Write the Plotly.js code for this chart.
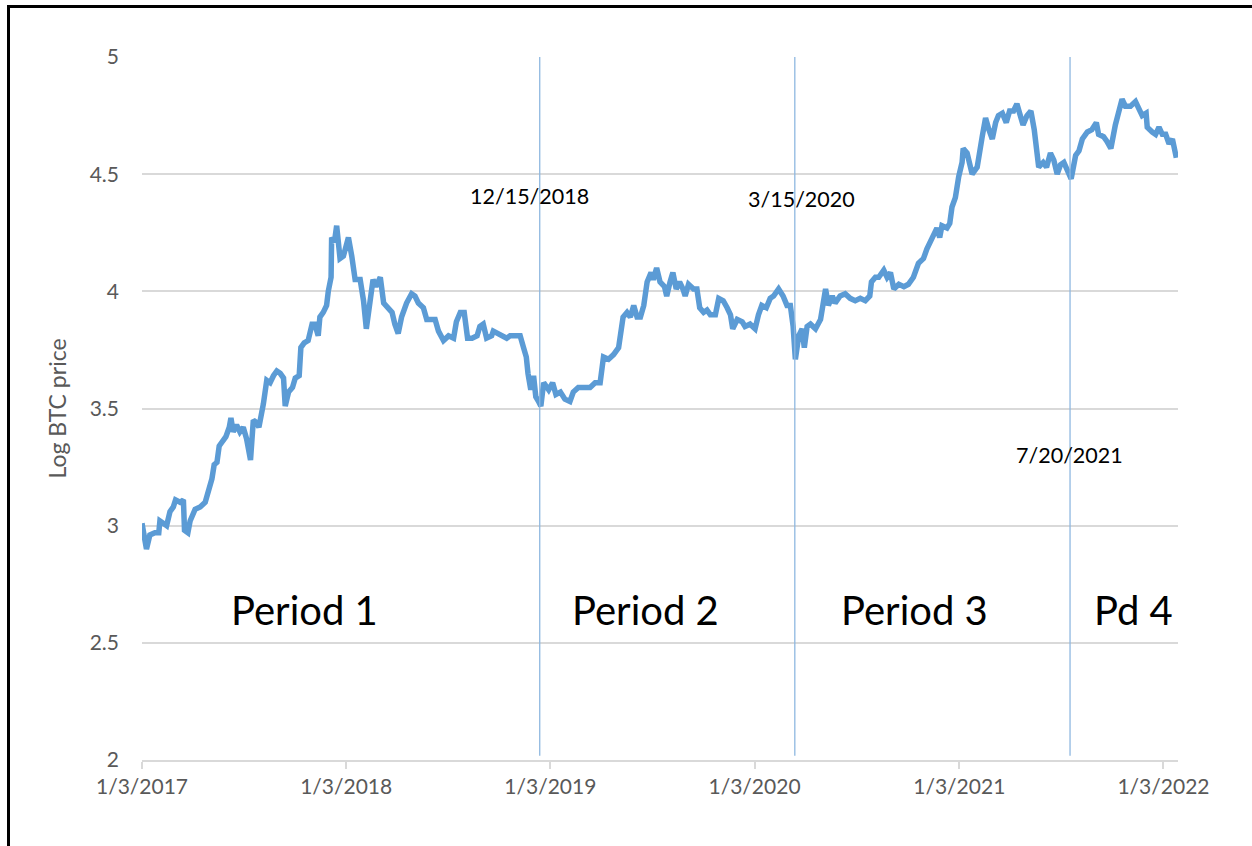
<!DOCTYPE html>
<html>
<head>
<meta charset="utf-8">
<script src="https://cdn.plot.ly/plotly-3.0.1.min.js"></script>
<style>
  html, body { margin: 0; padding: 0; background: #ffffff; }
  #wrap { position: relative; width: 1252px; height: 846px; overflow: hidden; }
  #chart { width: 1252px; height: 846px; }
  #frame { position: absolute; left: 7px; top: 5px; width: 1300px; height: 900px;
           border-left: 3px solid #000; border-top: 3px solid #000; pointer-events: none; }
</style>
</head>
<body>
<div id="wrap">
  <div id="chart"></div>
  <div id="frame"></div>
</div>
<script>
// ---- data ----
const dates = [
  '2017-01-03','2017-01-11','2017-01-17','2017-01-26','2017-02-02','2017-02-04','2017-02-10','2017-02-16','2017-02-22','2017-02-28',
  '2017-03-04','2017-03-12','2017-03-18','2017-03-20','2017-03-26','2017-03-30','2017-04-08','2017-04-17','2017-04-26','2017-05-02',
  '2017-05-08','2017-05-12','2017-05-17','2017-05-21','2017-05-27','2017-06-02','2017-06-08','2017-06-11','2017-06-15','2017-06-21',
  '2017-06-27','2017-07-03','2017-07-09','2017-07-16','2017-07-21','2017-07-27','2017-07-31','2017-08-04','2017-08-08','2017-08-14',
  '2017-08-20','2017-08-26','2017-09-01','2017-09-07','2017-09-13','2017-09-16','2017-09-22','2017-09-29','2017-10-04','2017-10-11',
  '2017-10-14','2017-10-20','2017-10-27','2017-11-03','2017-11-08','2017-11-14','2017-11-17','2017-11-23','2017-11-29','2017-12-02',
  '2017-12-07','2017-12-08','2017-12-13','2017-12-17','2017-12-23','2017-12-29','2018-01-07','2018-01-13','2018-01-19','2018-01-28',
  '2018-02-03','2018-02-08','2018-02-13','2018-02-20','2018-02-25','2018-03-05','2018-03-11','2018-03-17','2018-03-26','2018-03-31',
  '2018-04-06','2018-04-12','2018-04-21','2018-04-30','2018-05-06','2018-05-12','2018-05-21','2018-05-27','2018-06-05','2018-06-11',
  '2018-06-17','2018-06-26','2018-07-05','2018-07-14','2018-07-19','2018-07-26','2018-08-02','2018-08-08','2018-08-16','2018-08-25',
  '2018-08-30','2018-09-05','2018-09-11','2018-09-20','2018-09-23','2018-10-02','2018-10-11','2018-10-17','2018-10-23','2018-11-01',
  '2018-11-10','2018-11-16','2018-11-21','2018-11-24','2018-11-29','2018-12-04','2018-12-08','2018-12-13','2018-12-17','2018-12-22',
  '2018-12-31','2019-01-07','2019-01-13','2019-01-21','2019-01-29','2019-02-07','2019-02-13','2019-02-22','2019-03-03','2019-03-15',
  '2019-03-24','2019-04-02','2019-04-08','2019-04-17','2019-04-26','2019-05-05','2019-05-13','2019-05-20','2019-05-26','2019-06-01',
  '2019-06-07','2019-06-13','2019-06-19','2019-06-25','2019-07-02','2019-07-06','2019-07-12','2019-07-18','2019-07-26','2019-07-30',
  '2019-08-05','2019-08-10','2019-08-16','2019-08-22','2019-08-28','2019-09-01','2019-09-07','2019-09-16','2019-09-22','2019-09-27',
  '2019-10-04','2019-10-10','2019-10-16','2019-10-25','2019-10-31','2019-11-08','2019-11-15','2019-11-21','2019-11-25','2019-12-03',
  '2019-12-12','2019-12-17','2019-12-26','2020-01-04','2020-01-10','2020-01-16','2020-01-24','2020-01-31','2020-02-06','2020-02-15',
  '2020-02-23','2020-03-01','2020-03-07','2020-03-12','2020-03-16','2020-03-22','2020-03-28','2020-04-01','2020-04-06','2020-04-12',
  '2020-04-21','2020-04-30','2020-05-09','2020-05-14','2020-05-21','2020-05-26','2020-06-04','2020-06-13','2020-06-22','2020-07-01',
  '2020-07-10','2020-07-19','2020-07-27','2020-07-30','2020-08-06','2020-08-12','2020-08-21','2020-08-27','2020-09-02','2020-09-08',
  '2020-09-17','2020-09-26','2020-10-04','2020-10-13','2020-10-22','2020-10-31','2020-11-06','2020-11-12','2020-11-18','2020-11-24',
  '2020-11-29','2020-12-03','2020-12-12','2020-12-17','2020-12-21','2020-12-27','2021-01-02','2021-01-08','2021-01-10','2021-01-17',
  '2021-01-26','2021-02-04','2021-02-13','2021-02-19','2021-02-25','2021-03-03','2021-03-09','2021-03-14','2021-03-21','2021-03-28',
  '2021-04-03','2021-04-10','2021-04-16','2021-04-22','2021-04-27','2021-05-04','2021-05-11','2021-05-17','2021-05-22','2021-05-25',
  '2021-06-02','2021-06-08','2021-06-15','2021-06-21','2021-06-27','2021-07-03','2021-07-09','2021-07-15','2021-07-22','2021-07-30',
  '2021-08-05','2021-08-11','2021-08-20','2021-08-28','2021-09-05','2021-09-09','2021-09-18','2021-09-24','2021-10-01','2021-10-09',
  '2021-10-15','2021-10-21','2021-10-27','2021-11-05','2021-11-14','2021-11-20','2021-11-26','2021-12-03','2021-12-05','2021-12-14',
  '2021-12-20','2021-12-26','2022-01-01','2022-01-07','2022-01-13','2022-01-19','2022-01-23','2022-01-26'
];
const logPrice = [
  3.01,2.90,2.96,2.97,2.97,3.02,3.01,3.00,3.06,3.08,
  3.11,3.10,3.11,2.98,2.97,3.02,3.07,3.08,3.10,3.15,
  3.20,3.26,3.27,3.34,3.36,3.38,3.42,3.46,3.40,3.43,
  3.40,3.42,3.37,3.28,3.45,3.44,3.42,3.49,3.52,3.62,
  3.61,3.64,3.66,3.65,3.63,3.51,3.57,3.59,3.63,3.64,
  3.76,3.78,3.79,3.86,3.86,3.81,3.89,3.91,3.94,4.00,
  4.06,4.23,4.21,4.28,4.14,4.15,4.23,4.15,4.05,4.05,
  3.96,3.84,3.92,4.05,4.02,4.06,3.95,3.93,3.91,3.86,
  3.82,3.89,3.95,3.99,3.98,3.95,3.93,3.88,3.88,3.88,
  3.83,3.79,3.81,3.80,3.87,3.91,3.91,3.80,3.80,3.81,
  3.85,3.86,3.80,3.81,3.83,3.82,3.81,3.80,3.81,3.81,
  3.81,3.76,3.72,3.65,3.58,3.64,3.55,3.53,3.51,3.61,
  3.58,3.61,3.56,3.57,3.54,3.53,3.57,3.59,3.59,3.59,
  3.61,3.61,3.72,3.71,3.73,3.76,3.89,3.91,3.89,3.94,
  3.89,3.89,3.94,4.04,4.08,4.05,4.10,4.04,4.02,3.98,
  4.04,4.08,4.01,4.04,4.01,3.98,4.03,4.01,4.01,3.93,
  3.91,3.92,3.90,3.90,3.97,3.96,3.93,3.90,3.84,3.88,
  3.87,3.85,3.86,3.84,3.90,3.94,3.93,3.97,3.98,4.01,
  3.98,3.94,3.94,3.85,3.71,3.81,3.84,3.76,3.85,3.86,
  3.84,3.88,4.01,3.94,3.98,3.95,3.98,3.99,3.97,3.96,
  3.97,3.96,3.98,4.04,4.06,4.06,4.09,4.06,4.08,4.01,
  4.03,4.02,4.03,4.06,4.12,4.14,4.18,4.21,4.25,4.27,
  4.23,4.28,4.27,4.29,4.36,4.40,4.49,4.55,4.61,4.59,
  4.50,4.53,4.66,4.74,4.69,4.65,4.72,4.75,4.76,4.72,
  4.77,4.77,4.80,4.75,4.71,4.75,4.77,4.69,4.59,4.53,
  4.55,4.53,4.59,4.56,4.50,4.54,4.55,4.52,4.48,4.58,
  4.60,4.65,4.68,4.69,4.72,4.67,4.66,4.64,4.61,4.71,
  4.76,4.82,4.79,4.79,4.81,4.78,4.75,4.76,4.70,4.68,
  4.67,4.70,4.67,4.67,4.63,4.65,4.61,4.57
];
const xTickDates  = ['2017-01-03','2018-01-03','2019-01-03','2020-01-03','2021-01-03','2022-01-03'];
const xTickLabels = ['1/3/2017','1/3/2018','1/3/2019','1/3/2020','1/3/2021','1/3/2022'];
const yTickValues = [2, 2.5, 3, 3.5, 4, 4.5, 5];
const yTickLabels = ['2','2.5','3','3.5','4','4.5','5'];
const breakDates  = ['2018-12-15','2020-03-15','2021-07-20'];
const breakLabels = ['12/15/2018','3/15/2020','7/20/2021'];
const periodLabels = ['Period 1','Period 2','Period 3','Pd 4'];
const yTitle = 'Log BTC price';

// ---- layout / styling ----
const FONT = 'Lato, "Open Sans", sans-serif';
const grey = '#595959';

const trace = {
  type: 'scatter', mode: 'lines',
  x: dates, y: logPrice,
  line: { color: '#5b9bd5', width: 5.5 },
  hoverinfo: 'x+y', showlegend: false
};

const shapes = breakDates.map(d => ({
  type: 'line', xref: 'x', yref: 'paper',
  x0: d, x1: d, y0: 0.006, y1: 1,
  line: { color: '#8fb8e0', width: 1.3 },
  layer: 'above'
}));

const breakPos = [
  { x: 0.3745, y: 0.802 },
  { x: 0.637,  y: 0.798 },
  { x: 0.895,  y: 0.434 }
];
const periodPos = [0.157, 0.486, 0.746, 0.957];

const annotations = [];
breakLabels.forEach((t, i) => annotations.push({
  xref: 'paper', yref: 'paper', x: breakPos[i].x, y: breakPos[i].y,
  text: t, showarrow: false, xanchor: 'center', yanchor: 'middle',
  font: { family: FONT, size: 21.5, color: '#000000' }
}));
periodLabels.forEach((t, i) => annotations.push({
  xref: 'paper', yref: 'paper', x: periodPos[i], y: 0.213,
  text: t, showarrow: false, xanchor: 'center', yanchor: 'middle',
  font: { family: FONT, size: 40, color: '#000000' }
}));

const layout = {
  width: 1252, height: 846,
  margin: { l: 142, r: 74, t: 57, b: 86, pad: 0 },
  paper_bgcolor: '#ffffff', plot_bgcolor: '#ffffff',
  font: { family: FONT, color: grey },
  xaxis: {
    type: 'date',
    range: ['2017-01-03', '2022-01-29'],
    tickmode: 'array', tickvals: xTickDates, ticktext: xTickLabels,
    ticks: 'outside', ticklen: 7, tickwidth: 1.5, tickcolor: '#d9d9d9',
    showline: true, linecolor: '#d9d9d9', linewidth: 1.5,
    showgrid: false, zeroline: false,
    tickfont: { family: FONT, size: 21, color: grey }
  },
  yaxis: {
    range: [2, 5],
    tickmode: 'array', tickvals: yTickValues, ticktext: yTickLabels,
    ticks: '', showline: false, zeroline: false,
    showgrid: true, gridcolor: '#d9d9d9', gridwidth: 1.5,
    ticklabelstandoff: 22,
    tickfont: { family: FONT, size: 21, color: grey },
    title: { text: yTitle, standoff: 16, font: { family: FONT, size: 23, color: grey } }
  },
  shapes: shapes,
  annotations: annotations
};

Plotly.newPlot('chart', [trace], layout, { displayModeBar: false, responsive: false });
</script>
</body>
</html>
